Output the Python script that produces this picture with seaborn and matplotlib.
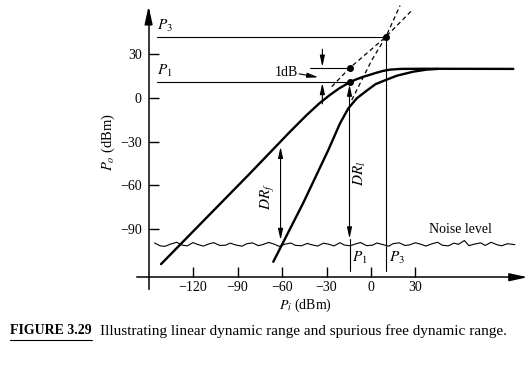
import matplotlib
matplotlib.use("Agg")
import matplotlib.pyplot as plt
import seaborn as sns
from matplotlib.lines import Line2D

# ---------------- data ----------------
# fundamental output curve  Po vs Pi
fund_x = [-141.6, -81.6, -54.6, -43.4, -35.0, -28.0, -21.5, -14.5, -10.0, -5.2,
          0.0, 3.8, 8.0, 12.8, 20.0, 35.0, 96.0]
fund_y = [-114.0, -51.7, -23.1, -11.7, -3.8, 1.9, 6.6, 10.8, 12.8, 14.6,
          16.2, 17.4, 18.6, 19.5, 20.0, 20.1, 20.0]
# third-order intermodulation output curve
im3_x = [-65.9, -45.7, -28.8, -20.9, -15.3, -9.6, -3.0, 3.0, 9.0, 17.3, 28.5, 37.5, 45.0]
im3_y = [-112.4, -72.0, -35.7, -17.4, -7.1, -0.2, 5.0, 9.5, 12.0, 15.3, 18.1, 19.5, 20.0]
# dashed extrapolations
ext_fund_x = [-26.5, -14.5, 10.0, 27.4]
ext_fund_y = [7.8, 20.5, 42.0, 60.0]
ext_im3_x = [-13.0, 0.5, 10.0, 19.6]
ext_im3_y = [-1.4, 26.0, 42.0, 63.5]
# noise floor trace
noise_x = [-146, -142, -139, -135, -131, -128, -124, -120, -117, -113,
           -109, -106, -102, -98, -95, -91, -87, -84, -80, -76,
           -73, -69, -65, -62, -58, -54, -51, -47, -43, -40,
           -36, -32, -29, -25, -21, -18, -14, -10, -7, -3,
           1, 4, 8, 12, 15, 19, 23, 26, 30, 34,
           37, 41, 45, 48, 52, 56, 59, 63, 66, 70,
           74, 77, 81, 85, 88, 92, 97]
noise_y = [-99.5, -101.5, -101.8, -100.2, -99.0, -100.8, -101.5, -99.2, -100.5, -101.6,
           -100.0, -99.3, -101.2, -101.0, -99.6, -100.9, -101.7, -100.1, -99.4, -101.3,
           -100.6, -99.1, -100.4, -101.8, -100.3, -99.5, -101.1, -101.4, -99.8, -100.7,
           -101.6, -99.6, -100.2, -101.5, -99.3, -100.9, -101.4, -100.0, -99.2, -101.3,
           -101.0, -99.5, -100.6, -101.7, -99.9, -99.4, -101.2, -100.8, -99.3, -100.5,
           -101.6, -100.1, -99.0, -101.0, -101.5, -99.6, -100.4, -97.8, -101.3, -100.2,
           -99.4, -101.2, -99.0, -100.7, -101.4, -100.0, -100.6]
# key points
p1_in, p1_out, p1_ext = -14.5, 10.8, 20.5
p3_in, p3_out = 10.0, 42.0
dr_f_x, dr_f_top, noise_top = -61.0, -33.4, -97.5
x_ticks = [-120, -90, -60, -30, 0, 30]
y_ticks = [30, 0, -30, -60, -90]

# ---------------- style ----------------
sns.set_theme(style="white", rc={"axes.edgecolor": "black", "text.color": "black",
                                 "xtick.color": "black", "ytick.color": "black",
                                 "axes.labelcolor": "black"})
plt.rcParams["font.family"] = ["Liberation Serif", "DejaVu Serif"]
plt.rcParams["mathtext.fontset"] = "stix"
plt.rcParams["axes.unicode_minus"] = True

fig = plt.figure(figsize=(5.31, 3.68), dpi=100)
ax = fig.add_axes([0, 0, 1, 1])
ax.set_xlim(-250.2, 107.9)
ax.set_ylim(-185.3, 67.3)
ax.set_facecolor("white")

# axes spines as crossing arrows
for s in ["top", "right"]:
    ax.spines[s].set_visible(False)
ax.spines["left"].set_position(("data", -150))
ax.spines["bottom"].set_position(("data", -123))
ax.spines["left"].set_bounds(-131, 60)
ax.spines["bottom"].set_bounds(-158, 102)
ax.spines["left"].set_linewidth(1.1)
ax.spines["bottom"].set_linewidth(1.1)
arrow_ax = dict(arrowstyle="-|>,head_length=0.9,head_width=0.2", color="black", lw=1.1,
                shrinkA=0, shrinkB=0)
ax.annotate("", xy=(-150, 63), xytext=(-150, 55), arrowprops=arrow_ax)
ax.annotate("", xy=(105.5, -123), xytext=(97, -123), arrowprops=arrow_ax)

ax.set_xticks(x_ticks)
ax.set_yticks(y_ticks)
ax.tick_params(axis="both", direction="in", length=7, width=1, labelsize=10,
               bottom=True, left=True)
ax.tick_params(axis="x", pad=3)
ax.tick_params(axis="y", pad=5)

# curves
sns.lineplot(x=fund_x, y=fund_y, ax=ax, color="black", lw=1.7, sort=False, estimator=None)
sns.lineplot(x=im3_x, y=im3_y, ax=ax, color="black", lw=1.7, sort=False, estimator=None)
sns.lineplot(x=ext_fund_x, y=ext_fund_y, ax=ax, color="black", lw=0.9, sort=False,
             estimator=None, linestyle=(0, (3.5, 2.5)))
sns.lineplot(x=ext_im3_x, y=ext_im3_y, ax=ax, color="black", lw=0.9, sort=False,
             estimator=None, linestyle=(0, (3.5, 2.5)))
sns.lineplot(x=noise_x, y=noise_y, ax=ax, color="black", lw=0.8, sort=False, estimator=None)

# reference lines
ax.plot([-144.3, p3_in], [p3_out, p3_out], color="black", lw=0.8)
ax.plot([-144.3, p1_in], [p1_out, p1_out], color="black", lw=0.8)
ax.plot([p3_in, p3_in], [p3_out, -119], color="black", lw=0.8)
ax.plot([p1_in, p1_in], [-96.5, -119], color="black", lw=0.8)
ax.plot([-41.1, p1_in], [p1_ext, p1_ext], color="black", lw=0.8)

# points
ax.plot([p3_in, p1_in, p1_in], [p3_out, p1_ext, p1_out], "o", color="black", ms=4)

# dynamic-range arrows
arr = dict(arrowstyle="<|-|>,head_length=0.55,head_width=0.12", color="black", lw=0.8,
           shrinkA=0, shrinkB=0)
ax.annotate("", xy=(dr_f_x, dr_f_top), xytext=(dr_f_x, noise_top), arrowprops=arr)
ax.annotate("", xy=(p1_in, p1_out - 1.5), xytext=(p1_in, -96.5), arrowprops=arr)

one = dict(arrowstyle="-|>,head_length=0.55,head_width=0.12", color="black", lw=0.8,
           shrinkA=0, shrinkB=0)
ax.annotate("", xy=(-32.8, 21.4), xytext=(-32.8, 33.5), arrowprops=one)
ax.annotate("", xy=(-32.8, 10.4), xytext=(-32.8, -4.0), arrowprops=one)
ax.annotate("", xy=(-35.5, 14.2), xytext=(-48.5, 16.6), arrowprops=one)

# texts
ax.text(-56.9, 17.4, "1dB", ha="center", va="center", fontsize=10)
ax.text(-138.9, 49.5, r"$P_3$", ha="center", va="center", fontsize=11)
ax.text(-138.9, 18.5, r"$P_1$", ha="center", va="center", fontsize=11)
ax.text(-7.4, -110, r"$P_1$", ha="center", va="center", fontsize=11)
ax.text(17.3, -110, r"$P_3$", ha="center", va="center", fontsize=11)
ax.text(-69.3, -67.7, r"$DR_f$", ha="center", va="center", fontsize=11, rotation=90)
ax.text(-7.4, -51.7, r"$DR_l$", ha="center", va="center", fontsize=11, rotation=90)
ax.text(60, -90, "Noise level", ha="center", va="center", fontsize=10)
ax.text(-44.5, -142.1, r"$P_i$ (dBm)", ha="center", va="center", fontsize=10)
ax.text(-177.3, -30, r"$P_o$ (dBm)", ha="center", va="center", fontsize=10.5, rotation=90)

# caption
fig.text(10 / 531, 1 - 331 / 368, "FIGURE 3.29", fontweight="bold", ha="left",
         va="center", fontsize=10)
fig.text(100 / 531, 1 - 331 / 368,
         "Illustrating linear dynamic range and spurious free dynamic range.",
         ha="left", va="center", fontsize=11)
fig.add_artist(Line2D([10 / 531, 92 / 531], [1 - 340 / 368] * 2, color="black", lw=0.8))

fig.savefig("out.png", dpi=100, facecolor="white")
